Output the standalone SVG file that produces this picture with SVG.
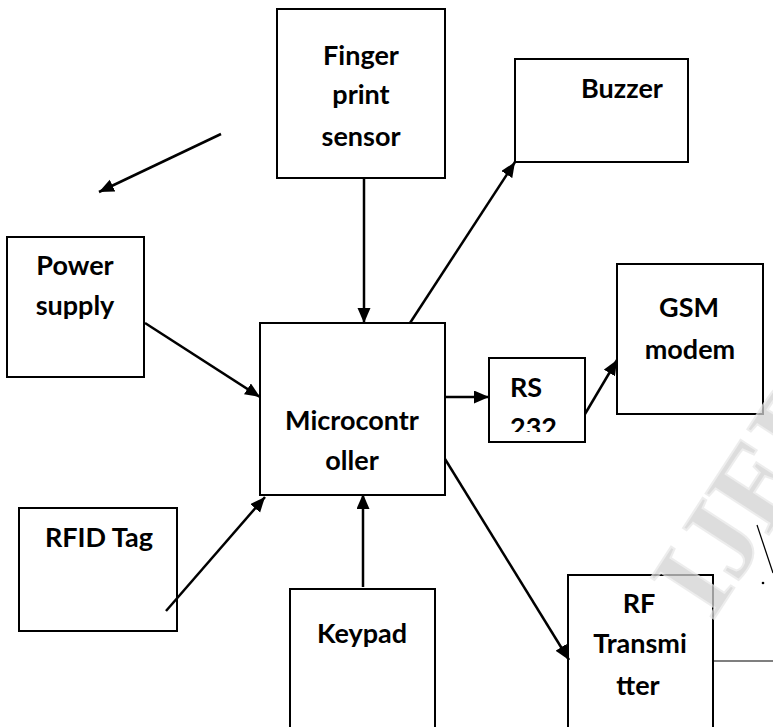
<svg xmlns="http://www.w3.org/2000/svg" width="773" height="727" viewBox="0 0 773 727">
<defs>
<style>
.box{fill:#fff;stroke:#000;stroke-width:2}
.lbl{font-family:Lato,"Open Sans","Liberation Sans",sans-serif;font-weight:bold;font-size:27px;fill:#000;text-anchor:middle}
.con{fill:none;stroke:#000;stroke-width:2.5}
.thin{fill:none;stroke:#000;stroke-width:1.2}
.wm{font-family:"Liberation Serif",serif;font-weight:bold;font-size:115px;fill:#d2d2d2;stroke:#e8e8e8;stroke-width:2;opacity:0.75}
</style>
<marker id="ah" markerUnits="userSpaceOnUse" markerWidth="16" markerHeight="14" refX="15" refY="6.5" orient="auto">
<path d="M0,0 L15,6.5 L0,13 z" fill="#000"/>
</marker>
<clipPath id="rsclip"><rect x="489" y="358" width="96" height="74"/></clipPath>
</defs>
<rect width="773" height="727" fill="#fff"/>
<g id="finger"><rect class="box" x="277" y="9" width="168" height="169"/>
<text class="lbl" x="361" y="65">Finger</text><text class="lbl" x="361" y="104">print</text><text class="lbl" x="361" y="146">sensor</text></g>
<g id="buzzer"><rect class="box" x="515" y="59" width="173" height="103"/>
<text class="lbl" x="622" y="98">Buzzer</text></g>
<g id="power"><rect class="box" x="7" y="237" width="137" height="140"/>
<text class="lbl" x="75" y="275">Power</text><text class="lbl" x="75" y="315">supply</text></g>
<g id="gsm"><rect class="box" x="617" y="264" width="146" height="150"/>
<text class="lbl" x="689" y="317">GSM</text><text class="lbl" x="690" y="359">modem</text></g>
<g id="micro"><rect class="box" x="260" y="323" width="185" height="172"/>
<text class="lbl" x="352" y="430">Microcontr</text><text class="lbl" x="352" y="470">oller</text></g>
<g id="rs232"><rect class="box" x="489" y="358" width="96" height="84"/>
<g clip-path="url(#rsclip)"><text class="lbl" x="510" y="397" style="text-anchor:start">RS</text><text class="lbl" x="510" y="437" style="text-anchor:start">232</text></g></g>
<g id="rfid"><rect class="box" x="19" y="508" width="158" height="123"/>
<text class="lbl" x="99" y="547">RFID Tag</text></g>
<g id="keypad"><rect class="box" x="290" y="589" width="145" height="145"/>
<text class="lbl" x="362" y="643">Keypad</text></g>
<g id="rf"><rect class="box" x="568" y="575" width="145" height="160"/>
<text class="lbl" x="639" y="613">RF</text><text class="lbl" x="640" y="653">Transmi</text><text class="lbl" x="638" y="695">tter</text></g>
<g id="connectors">
<line class="con" x1="221" y1="134" x2="99" y2="192" marker-end="url(#ah)"/>
<line class="con" x1="364" y1="178" x2="364" y2="323" marker-end="url(#ah)"/>
<line class="con" x1="410" y1="323" x2="515" y2="162" marker-end="url(#ah)"/>
<line class="con" x1="145" y1="323" x2="260" y2="397" marker-end="url(#ah)"/>
<line class="con" x1="445" y1="397" x2="489" y2="397" marker-end="url(#ah)"/>
<line class="con" x1="585" y1="414" x2="617" y2="360" marker-end="url(#ah)"/>
<line class="con" x1="166" y1="611" x2="265" y2="497" marker-end="url(#ah)"/>
<line class="con" x1="363" y1="587" x2="363" y2="494" marker-end="url(#ah)"/>
<line class="con" x1="445" y1="459" x2="569" y2="660" marker-end="url(#ah)"/>
<line class="thin" x1="713" y1="661" x2="773" y2="661"/>
<line class="thin" x1="757" y1="525" x2="773" y2="573"/>
<circle cx="763" cy="583" r="1.3" fill="#000"/>
</g>
<text class="wm" transform="translate(712,622) rotate(-57)">IJERT</text>
</svg>
